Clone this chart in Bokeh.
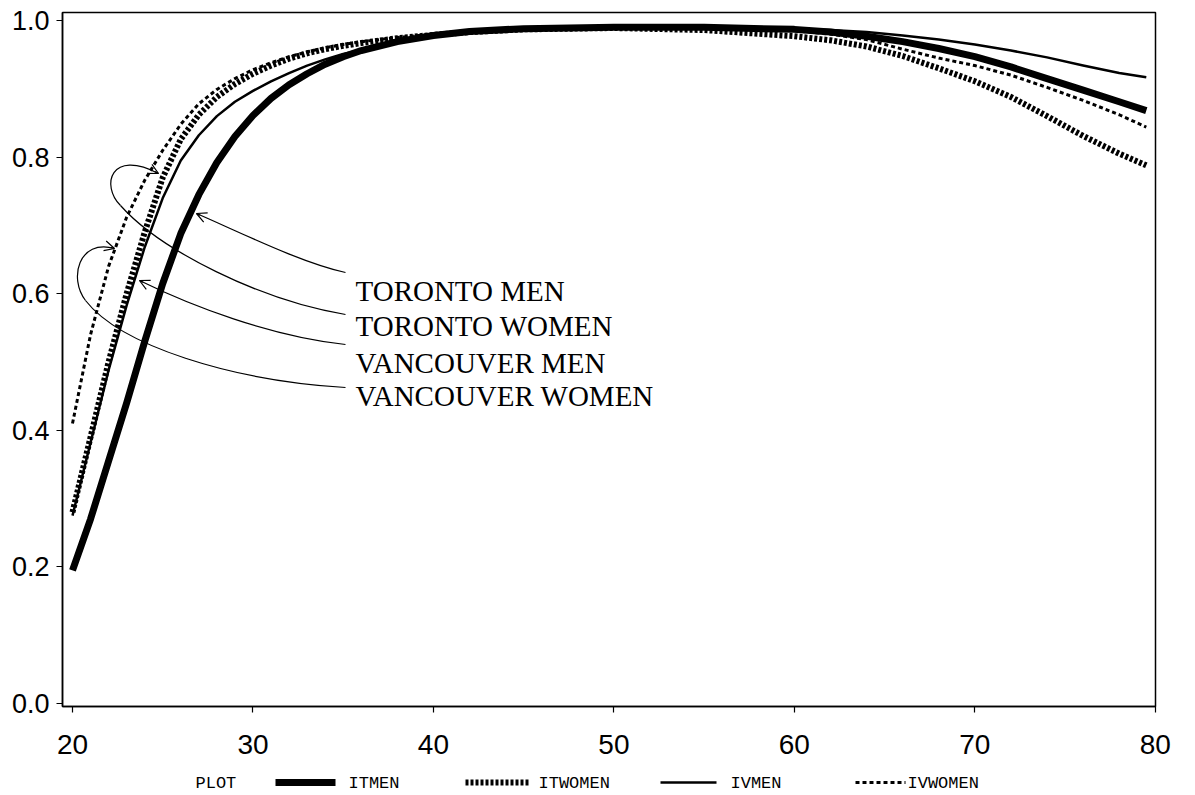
from bokeh.plotting import figure
from bokeh.layouts import column
from bokeh.models import (Range1d, FixedTicker, NumeralTickFormatter, Label, Arrow,
                          OpenHead)
from bokeh.embed import file_html
from bokeh.resources import INLINE
from bokeh.core.properties import value

# ---------------- data ----------------
ages = [20, 21, 22, 23, 24, 25, 26, 27, 28, 29, 30, 31, 32, 33, 34, 35, 36, 38, 40,
        42, 45, 50, 55, 60, 62, 64, 66, 68, 70, 72, 74, 76, 78, 79.5]
itmen = [0.195, 0.270, 0.355, 0.440, 0.530, 0.615, 0.688, 0.745, 0.792, 0.830, 0.861,
         0.886, 0.906, 0.922, 0.936, 0.947, 0.956, 0.969, 0.978, 0.984, 0.988, 0.990,
         0.990, 0.987, 0.983, 0.977, 0.969, 0.959, 0.947, 0.932, 0.915, 0.898, 0.881, 0.868]
itwomen = [0.280, 0.390, 0.500, 0.600, 0.690, 0.770, 0.826, 0.862, 0.888, 0.907, 0.922,
           0.934, 0.944, 0.952, 0.958, 0.963, 0.967, 0.974, 0.979, 0.983, 0.987, 0.989,
           0.986, 0.977, 0.971, 0.962, 0.948, 0.930, 0.911, 0.888, 0.860, 0.831, 0.805, 0.788]
ivmen = [0.275, 0.382, 0.488, 0.583, 0.668, 0.740, 0.795, 0.832, 0.860, 0.881, 0.897,
         0.911, 0.923, 0.934, 0.943, 0.951, 0.957, 0.968, 0.977, 0.983, 0.987, 0.990,
         0.990, 0.988, 0.986, 0.983, 0.978, 0.972, 0.965, 0.956, 0.946, 0.934, 0.923, 0.917]
ivwomen = [0.410, 0.540, 0.640, 0.712, 0.766, 0.810, 0.848, 0.878, 0.899, 0.915, 0.928,
           0.938, 0.947, 0.954, 0.960, 0.965, 0.969, 0.975, 0.980, 0.984, 0.988, 0.990,
           0.990, 0.985, 0.980, 0.972, 0.958, 0.945, 0.934, 0.920, 0.902, 0.883, 0.862, 0.844]

x_ticks = [20, 30, 40, 50, 60, 70, 80]
y_ticks = [0.0, 0.2, 0.4, 0.6, 0.8, 1.0]
series_names = ["ITMEN", "ITWOMEN", "IVMEN", "IVWOMEN"]
annot_texts = ["TORONTO MEN", "TORONTO WOMEN", "VANCOUVER MEN", "VANCOUVER WOMEN"]
legend_title = "PLOT"

# ---------------- styles ----------------
styles = [dict(line_width=7, line_dash="solid"),
          dict(line_width=6, line_dash="3 2"),
          dict(line_width=2.5, line_dash="solid"),
          dict(line_width=3, line_dash="4 3")]

# ---------------- layout (page pixels) ----------------
W, H = 1190, 765
FL, FT, FR, FB = 62, 12, 1155, 706          # frame edges
X0, X1 = 19.446, 80.01
Y0, Y1 = -0.0044, 1.0117


def px2x(px):
    return X0 + (px - FL) * (X1 - X0) / (FR - FL)


def px2y(py):
    return Y1 - (py - FT) * (Y1 - Y0) / (FB - FT)


p = figure(width=W, height=H, output_backend="svg", toolbar_location=None,
           x_range=Range1d(X0, X1), y_range=Range1d(Y0, Y1),
           min_border_left=FL, min_border_top=FT,
           min_border_right=W - FR, min_border_bottom=H - FB)
p.xgrid.visible = False
p.ygrid.visible = False
p.outline_line_color = "black"
p.outline_line_width = 1.5
p.background_fill_color = "white"
p.border_fill_color = "white"

p.xaxis.ticker = FixedTicker(ticks=x_ticks)
p.yaxis.ticker = FixedTicker(ticks=y_ticks)
p.yaxis.formatter = NumeralTickFormatter(format="0.0")
for ax in (p.xaxis, p.yaxis):
    ax.axis_line_color = "black"
    ax.axis_line_width = 1.5
    ax.major_tick_line_color = "black"
    ax.major_tick_line_width = 1.2
    ax.major_tick_out = 6
    ax.major_tick_in = 0
    ax.minor_tick_line_color = None
    ax.major_label_text_font = "Liberation Sans"
    ax.major_label_text_color = "black"
p.xaxis.major_label_text_font_size = "28px"
p.yaxis.major_label_text_font_size = "27px"
p.xaxis.major_label_standoff = 22
p.yaxis.major_label_standoff = 7

for ys, st in zip([itmen, itwomen, ivmen, ivwomen], styles):
    p.line(ages, ys, line_color="black", line_join="round", **st)

# ---------------- annotation text ----------------
text_x = 355
baselines = [290, 325, 362, 395]
for t, by in zip(annot_texts, baselines):
    p.add_layout(Label(x=px2x(text_x), y=px2y(by), text=t, text_font="Liberation Serif",
                       text_font_size="29px", text_color="black",
                       text_baseline="alphabetic", text_align="left"))

# ---------------- leader curves (page px) ----------------
curves = [
    # TORONTO MEN
    ((345, 272), (300, 262), (240, 232), (196, 213)),
    # TORONTO WOMEN
    ((345, 314), (260, 300), (160, 250), (120, 205)),
    ((120, 205), (100, 185), (110, 148), (158, 173)),
    # VANCOUVER MEN
    ((345, 344), (270, 336), (190, 305), (139, 280)),
    # VANCOUVER WOMEN
    ((345, 387), (230, 380), (120, 345), (85, 300)),
    ((85, 300), (68, 278), (78, 238), (114, 248)),
]
p.bezier(x0=[px2x(c[0][0]) for c in curves], y0=[px2y(c[0][1]) for c in curves],
         cx0=[px2x(c[1][0]) for c in curves], cy0=[px2y(c[1][1]) for c in curves],
         cx1=[px2x(c[2][0]) for c in curves], cy1=[px2y(c[2][1]) for c in curves],
         x1=[px2x(c[3][0]) for c in curves], y1=[px2y(c[3][1]) for c in curves],
         line_color="black", line_width=1.2)

for idx in (0, 2, 3, 5):
    (_, _), (_, _), (c1x, c1y), (tx, ty) = curves[idx]
    dx, dy = tx - c1x, ty - c1y
    n = (dx * dx + dy * dy) ** 0.5
    sx, sy = tx - 4 * dx / n, ty - 4 * dy / n
    p.add_layout(Arrow(end=OpenHead(size=10, line_width=1.2, line_color="black"),
                       x_start=px2x(sx), y_start=px2y(sy), x_end=px2x(tx), y_end=px2y(ty),
                       line_width=1.2, line_color="black"))

# ---------------- bottom legend strip (page-pixel x, aligned with main frame) ----------------
LH = 30
leg = figure(width=W, height=LH, output_backend="svg", toolbar_location=None,
             x_range=Range1d(FL, FR), y_range=Range1d(LH, 0),
             x_axis_location=None, y_axis_location=None,
             min_border=0, outline_line_color=None)
leg.grid.visible = False
row_y = 782 - H
sample_x = [(275, 335), (465, 530), (660, 716), (855, 905)]
label_x = [348, 538, 730, 907]
for (a, b), st in zip(sample_x, styles):
    leg.line([a, b], [row_y, row_y], line_color="black", **st)
leg.text(x=[195] + label_x, y=[row_y + 1] * 5, text=[legend_title] + series_names,
         text_font=value("Liberation Mono"), text_font_size="17px", text_color="black",
         text_baseline="middle", text_align="left")

layout = column(p, leg, spacing=0)
open("out.html", "w").write(file_html(layout, INLINE))
